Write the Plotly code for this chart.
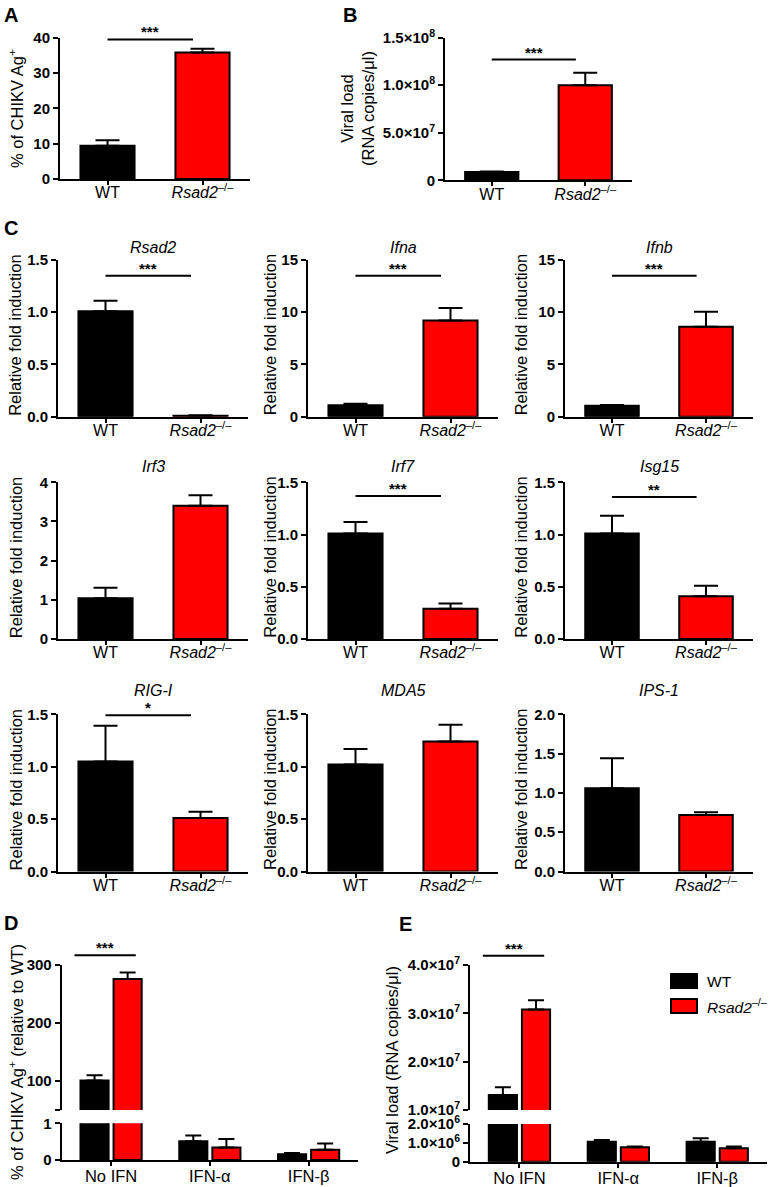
import plotly.graph_objects as go

W, H = 770, 1187
FONT = "Liberation Sans, Arial, Helvetica, sans-serif"
BLACK = "#000000"
RED = "#ff0000"

# ---------------- data ----------------
groups = ["WT", "Rsad2-/-"]
group_labels = ["WT", "<i>Rsad2</i><sup>–/–</sup>"]
group_colors = [BLACK, RED]

# Panel A: % of CHIKV Ag+
a_mean = [9.4, 35.8]
a_sem = [1.6, 1.1]
a_ticks = [0, 10, 20, 30, 40]

# Panel B: viral load
b_mean = [8.7e6, 1.0e8]
b_sem = [0.6e6, 1.3e7]
b_ticks = [0, 5e7, 1e8, 1.5e8]
b_ticktext = ["0", "5.0×10<sup>7</sup>", "1.0×10<sup>8</sup>", "1.5×10<sup>8</sup>"]

# Panel C: relative fold induction
c_genes = ["Rsad2", "Ifna", "Ifnb", "Irf3", "Irf7", "Isg15", "RIG-I", "MDA5", "IPS-1"]
c_wt = [1.01, 1.10, 1.05, 1.04, 1.01, 1.01, 1.05, 1.02, 1.06]
c_wt_sem = [0.10, 0.13, 0.06, 0.27, 0.11, 0.17, 0.34, 0.15, 0.38]
c_ko = [0.01, 9.2, 8.6, 3.40, 0.29, 0.41, 0.51, 1.24, 0.72]
c_ko_sem = [0.004, 1.2, 1.45, 0.27, 0.05, 0.10, 0.06, 0.16, 0.035]
c_ymax = [1.5, 15, 15, 4, 1.5, 1.5, 1.5, 1.5, 2.0]
c_dtick = [0.5, 5, 5, 1, 0.5, 0.5, 0.5, 0.5, 0.5]
c_sig = ["***", "***", "***", "", "***", "**", "*", "", ""]
c_sig_y = [1.35, 13.5, 13.5, None, 1.37, 1.36, 1.49, None, None]

# Panels D / E
treatments = ["No IFN", "IFN-α", "IFN-β"]
d_wt = [101, 0.51, 0.16]
d_wt_sem = [9, 0.16, 0.03]
d_ko = [276, 0.34, 0.28]
d_ko_sem = [11, 0.23, 0.17]
e_wt = [1.31e7, 1.06e6, 1.06e6]
e_wt_sem = [0.16e7, 0.09e6, 0.18e6]
e_ko = [3.08e7, 0.77e6, 0.71e6]
e_ko_sem = [0.19e7, 0.03e6, 0.09e6]

# ---------------- layout helpers ----------------
def xdom(p0, p1):
    return [p0 / W, p1 / W]

def ydom(p0, p1):
    return [1 - p1 / H, 1 - p0 / H]

layout = dict(
    template="none",
    width=W, height=H, autosize=False,
    margin=dict(l=0, r=0, t=0, b=0, pad=0),
    paper_bgcolor="white", plot_bgcolor="white",
    barmode="group", bargap=0.33, bargroupgap=0.15,
    showlegend=False,
    font=dict(family=FONT, color="black"),
)
traces, annotations, shapes = [], [], []

def names(n):
    s = "" if n == 1 else str(n)
    return "xaxis" + s, "yaxis" + s, "x" + s, "y" + s

def bold(lst):
    return ["<b>%s</b>" % t if t else "" for t in lst]

def yaxis_style(dom, rng, tv, tt, anchor):
    return dict(domain=dom, range=rng, tickvals=tv, ticktext=bold(tt), anchor=anchor,
                showline=True, linewidth=2, linecolor="black", ticks="outside",
                ticklen=5, tickwidth=2, tickcolor="black", showgrid=False,
                zeroline=False, automargin=False,
                tickfont=dict(size=15, family=FONT, color="black"),
                fixedrange=True)

def xaxis_style(dom, cats, labels, anchor, visible=True, size=16, standoff=-6):
    return dict(domain=dom, type="category", categoryorder="array", categoryarray=cats,
                tickvals=cats, ticktext=labels, range=[-0.5, len(cats) - 0.5],
                anchor=anchor, visible=visible, showline=True, linewidth=2,
                linecolor="black", ticks="outside", ticklen=4, tickwidth=2,
                tickcolor="black", showgrid=False, zeroline=False, automargin=False,
                ticklabelstandoff=standoff,
                tickfont=dict(size=size, family=FONT, color="black"), fixedrange=True)

def sig(xa, ya, ncat, c0, c1, frac, stars):
    x0 = (c0 + 0.5) / ncat
    x1 = (c1 + 0.5) / ncat
    shapes.append(dict(type="line", xref=xa + " domain", yref=ya + " domain",
                       x0=x0, x1=x1, y0=frac, y1=frac,
                       line=dict(color="black", width=2)))
    annotations.append(dict(xref=xa + " domain", yref=ya + " domain",
                            x=(x0 + x1) / 2, y=frac, text="<b>%s</b>" % stars,
                            showarrow=False, yanchor="bottom", xanchor="center",
                            yshift=-3, font=dict(size=15, family=FONT)))

def ytitle(text, xc, yc, size=16.5):
    annotations.append(dict(xref="paper", yref="paper", x=xc / W, y=1 - yc / H,
                            text=text, textangle=-90, showarrow=False,
                            xanchor="center", yanchor="middle",
                            font=dict(size=size, family=FONT)))

def letter(text, x, yc):
    annotations.append(dict(xref="paper", yref="paper", x=x / W, y=1 - yc / H,
                            text="<b>%s</b>" % text, showarrow=False,
                            xanchor="left", yanchor="middle",
                            font=dict(size=20, family=FONT)))

def two_group_panel(n, xpx, ypx, mean, sem, ymax, tv, tt, stars="", sig_y=None, ymin=0):
    xk, yk, xa, ya = names(n)
    layout[xk] = xaxis_style(xdom(*xpx), groups, group_labels, ya)
    layout[yk] = yaxis_style(ydom(*ypx), [ymin, ymax], tv, tt, xa)
    traces.append(go.Bar(x=groups, y=mean, xaxis=xa, yaxis=ya, showlegend=False,
                         marker=dict(color=group_colors, line=dict(color="black", width=2)),
                         error_y=dict(type="data", array=sem, arrayminus=[0] * len(sem),
                                      symmetric=False, color="black", thickness=2, width=12)))
    if stars:
        sig(xa, ya, 2, 0, 0.9, (sig_y - ymin) / (ymax - ymin), stars)

# ---------------- Panel A ----------------
two_group_panel(1, (60, 250), (37.7, 179), a_mean, a_sem, 40, a_ticks,
                [str(t) for t in a_ticks], stars="***", sig_y=39.5)
ytitle("% of CHIKV Ag<sup>+</sup>", 16, 109)
letter("A", 2, 15)

# ---------------- Panel B ----------------
two_group_panel(2, (445, 632), (37.7, 180.3), b_mean, b_sem, 1.5e8, b_ticks,
                b_ticktext, stars="***", sig_y=1.27e8)
ytitle("Viral load<br>(RNA copies/μl)", 357, 109)
letter("B", 341, 15)

# ---------------- Panel C ----------------
col_x = [(58, 248), (308, 498), (565, 753)]
row_y = [(260, 416.7), (482.3, 639), (714.3, 871.5)]
title_y = [247.5, 466.5, 690]
ytitle_x = [15.5, 270, 521]
for i, gene in enumerate(c_genes):
    r, c = divmod(i, 3)
    ymax = c_ymax[i]
    dt = c_dtick[i]
    nt = int(round(ymax / dt))
    tv = [k * dt for k in range(nt + 1)]
    if dt < 1:
        tt = ["%.1f" % v for v in tv]
    else:
        tt = ["%d" % v for v in tv]
    two_group_panel(3 + i, col_x[c], row_y[r], [c_wt[i], c_ko[i]],
                    [c_wt_sem[i], c_ko_sem[i]], ymax, tv, tt,
                    stars=c_sig[i], sig_y=c_sig_y[i])
    xc = (col_x[c][0] + col_x[c][1]) / 2
    annotations.append(dict(xref="paper", yref="paper", x=xc / W, y=1 - title_y[r] / H,
                            text="<i>%s</i>" % gene, showarrow=False,
                            xanchor="center", yanchor="middle",
                            font=dict(size=16, family=FONT)))
    ytitle("Relative fold induction", ytitle_x[c], (row_y[r][0] + row_y[r][1]) / 2 - 3)
letter("C", 2, 228)

# ---------------- Panels D and E (broken axes) ----------------
def broken_panel(n_up, n_lo, xpx, up_px, lo_px, up_rng, lo_rng, up_tv, up_tt, lo_tv, lo_tt,
                 wt, wt_sem, ko, ko_sem, sig_val):
    xk_u, yk_u, xa_u, ya_u = names(n_up)
    xk_l, yk_l, xa_l, ya_l = names(n_lo)
    layout[xk_u] = xaxis_style(xdom(*xpx), treatments, treatments, ya_u, visible=False)
    layout[yk_u] = yaxis_style(ydom(*up_px), up_rng, up_tv, up_tt, xa_u)
    layout[xk_l] = xaxis_style(xdom(*xpx), treatments, treatments, ya_l, size=16.5,
                               standoff=-4)
    layout[yk_l] = yaxis_style(ydom(*lo_px), lo_rng, lo_tv, lo_tt, xa_l)
    for xa, ya in ((xa_u, ya_u), (xa_l, ya_l)):
        for vals, sems, col in ((wt, wt_sem, BLACK), (ko, ko_sem, RED)):
            traces.append(go.Bar(x=treatments, y=vals, xaxis=xa, yaxis=ya, showlegend=False,
                                 marker=dict(color=col, line=dict(color="black", width=2)),
                                 error_y=dict(type="data", array=sems,
                                              arrayminus=[0] * len(sems), symmetric=False,
                                              color="black", thickness=2, width=8)))
    frac = (sig_val - up_rng[0]) / (up_rng[1] - up_rng[0])
    sig(xa_u, ya_u, 3, -0.37, 0.25, frac, "***")

broken_panel(14, 15, (61.7, 358), (965, 1110), (1123.3, 1160), [50, 300], [0, 1],
             [50, 100, 200, 300], ["", "100", "200", "300"], [0, 1], ["0", "1"],
             d_wt, d_wt_sem, d_ko, d_ko_sem, 317)
ytitle("% of CHIKV Ag<sup>+</sup> (relative to WT)", 16, 1062)
letter("D", 2, 923)

e_up_tv = [1e7, 2e7, 3e7, 4e7]
e_up_tt = ["1.0×10<sup>7</sup>", "2.0×10<sup>7</sup>", "3.0×10<sup>7</sup>", "4.0×10<sup>7</sup>"]
broken_panel(16, 17, (470, 766.7), (965, 1110), (1124, 1161.7), [1e7, 4e7], [0, 2e6],
             e_up_tv, e_up_tt, [0, 1e6, 2e6],
             ["0", "1.0×10<sup>6</sup>", "2.0×10<sup>6</sup>"],
             e_wt, e_wt_sem, e_ko, e_ko_sem, 4.19e7)
ytitle("Viral load (RNA copies/μl)", 392, 1060)
letter("E", 397, 923.5)

# legend for D/E
leg_items = [("WT", BLACK, 981), ("<i>Rsad2</i><sup>–/–</sup>", RED, 1006)]
for label, col, yc in leg_items:
    shapes.append(dict(type="rect", xref="paper", yref="paper",
                       x0=671 / W, x1=697 / W, y0=1 - (yc + 7) / H, y1=1 - (yc - 7) / H,
                       fillcolor=col, line=dict(color="black", width=2)))
    annotations.append(dict(xref="paper", yref="paper", x=705 / W, y=1 - yc / H,
                            text=label, showarrow=False, xanchor="left", yanchor="middle",
                            font=dict(size=15.5, family=FONT)))

layout["annotations"] = annotations
layout["shapes"] = shapes

fig = go.Figure(data=traces, layout=layout)
fig.write_html(
    "out.html",
    config={"displayModeBar": False, "staticPlot": False},
    post_script="document.body.style.margin='0px';document.body.style.padding='0px';"
                "document.body.style.overflow='hidden';",
)
